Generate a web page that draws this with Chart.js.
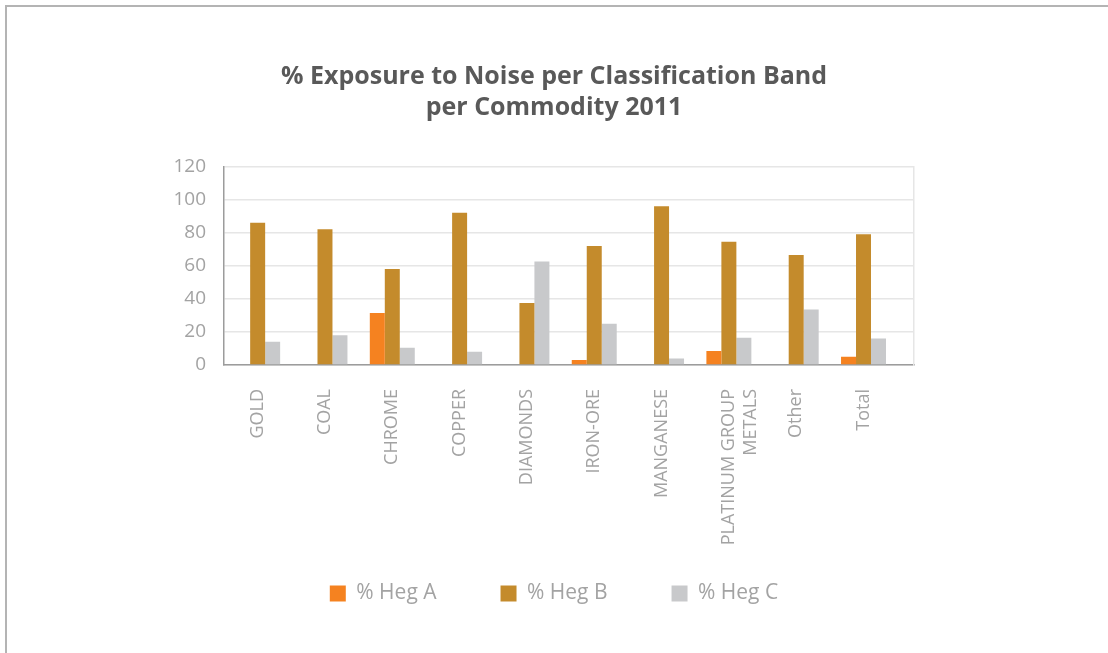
<!DOCTYPE html>
<html>
<head>
<meta charset="utf-8">
<script src="https://cdn.jsdelivr.net/npm/chart.js@4.4.1/dist/chart.umd.min.js"></script>
<style>
    html, body { margin: 0; padding: 0; background: #fff; overflow: hidden; }
    #wrap { position: relative; width: 1108px; height: 653px; }
    /* thin frame along the top and left edge */
    #frame {
        position: absolute; left: 5px; top: 5px; width: 1200px; height: 700px;
        border-top: 2px solid #b4b4b4; border-left: 2px solid #b4b4b4;
        pointer-events: none;
    }
    #chart { position: absolute; left: 0; top: 0; }
</style>
</head>
<body>
<div id="wrap">
    <canvas id="chart" width="1108" height="653"></canvas>
    <div id="frame"></div>
</div>
<script>
// commodities on the x axis
const categories = [
    'GOLD', 'COAL', 'CHROME', 'COPPER', 'DIAMONDS', 'IRON-ORE',
    'MANGANESE', ['PLATINUM GROUP', 'METALS'], 'Other', 'Total'
];

// % of workers per noise band
const hegA = [0, 0, 31.5, 0, 0, 3, 0, 8.5, 0, 5];
const hegB = [86, 82, 58, 92, 37.5, 72, 96, 74.5, 66.5, 79];
const hegC = [14, 18, 10.5, 8, 62.5, 25, 4, 16.5, 33.5, 16];

const seriesNames = ['% Heg A', '% Heg B', '% Heg C'];
const yTicks = [0, 20, 40, 60, 80, 100, 120];

const FONT = "'Open Sans', 'DejaVu Sans', sans-serif";
const LABEL_GREY = '#a3a3a3';
const LEGEND_TOP = 519;

// the legend needs wide gaps between items, but its box would then push
// into the long rotated labels; lift it back up after layout
const liftLegend = {
    id: 'liftLegend',
    afterLayout(chart) {
        const lg = chart.legend;
        if (!lg) return;
        const dy = lg.top - LEGEND_TOP;
        lg.top -= dy;
        lg.bottom -= dy;
    }
};

const ctx = document.getElementById('chart');

new Chart(ctx, {
    type: 'bar',
    data: {
        // numeric positions; the x axis is linear so the groups leave a
        // little empty room before the right edge of the plot
        labels: categories.map((_, i) => i),
        datasets: [
            { label: seriesNames[0], data: hegA, backgroundColor: '#f58220' },
            { label: seriesNames[1], data: hegB, backgroundColor: '#c48b2c' },
            { label: seriesNames[2], data: hegC, backgroundColor: '#c8c9cb' }
        ]
    },
    plugins: [liftLegend],
    options: {
        responsive: false,
        animation: false,
        devicePixelRatio: 1,
        categoryPercentage: 0.668,
        barPercentage: 1,
        layout: { padding: { top: 0, bottom: 8, left: 0, right: 0 } },
        scales: {
            x: {
                type: 'linear',
                min: -0.5,
                max: 9.75,
                offset: false,
                afterBuildTicks: (scale) => { scale.ticks = categories.map((_, i) => ({ value: i })); },
                grid: { display: false },
                border: { display: true, color: '#9c9c9c', width: 1.5 },
                ticks: {
                    color: LABEL_GREY,
                    font: { family: FONT, size: 18 },
                    minRotation: 90,
                    maxRotation: 90,
                    autoSkip: false,
                    padding: 16,
                    callback: (value) => categories[value]
                },
                afterFit: (scale) => { scale.height = 185; }
            },
            y: {
                min: 0,
                max: 120,
                afterBuildTicks: (scale) => { scale.ticks = yTicks.map(v => ({ value: v })); },
                grid: { color: '#e6e6e6', lineWidth: 1.5, drawTicks: false },
                border: { display: true, color: '#9c9c9c', width: 1.5 },
                ticks: {
                    color: LABEL_GREY,
                    font: { family: FONT, size: 19 },
                    padding: 18
                },
                afterFit: (scale) => { scale.width = 224; }
            },
            // empty right axis: keeps the plot off the right side and draws its edge
            y2: {
                position: 'right',
                min: 0,
                max: 120,
                grid: { drawOnChartArea: false, drawTicks: false },
                border: { display: true, color: '#e6e6e6', width: 1.5 },
                ticks: { display: false },
                afterFit: (scale) => { scale.width = 194; }
            }
        },
        plugins: {
            title: {
                display: true,
                text: ['% Exposure to Noise per Classification Band', 'per Commodity 2011'],
                color: '#595959',
                font: { family: FONT, size: 25, weight: 'bold', lineHeight: 1.25 },
                padding: { top: 61, bottom: 43 }
            },
            legend: {
                position: 'bottom',
                labels: {
                    color: LABEL_GREY,
                    font: { family: FONT, size: 21 },
                    boxWidth: 16,
                    boxHeight: 16,
                    padding: 64
                }
            },
            tooltip: { enabled: false }
        }
    }
});
</script>
</body>
</html>
